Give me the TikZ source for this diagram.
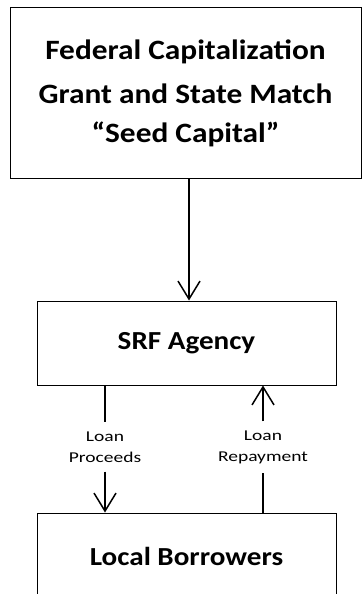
\documentclass[tikz,border=0pt]{standalone}
\usepackage{fontspec}
\setmainfont{Carlito}
\newfontfamily\boxfont[FakeStretch=1.12]{Carlito Bold}
\newfontfamily\flowfont[FakeStretch=1.3]{Carlito}
\usetikzlibrary{arrows.meta}
\begin{document}
\begin{tikzpicture}[x=1pt, y=-1pt,
    box/.style={draw, line width=1pt, inner sep=0pt, align=center,
                font=\boxfont\fontsize{26}{45}\selectfont},
    flowlabel/.style={align=center, inner xsep=1pt, inner ysep=9pt,
                      font=\flowfont\fontsize{15}{21}\selectfont},
    flow/.style={line width=1.5pt,
                 -{Straight Barb[length=18pt, width=22pt, line width=1.5pt]}}]
  \useasboundingbox (0,0) rectangle (362,594);
  \clip (0,0) rectangle (362,594);
  \node[box, minimum width=351pt, minimum height=170pt,
        font=\boxfont\fontsize{28}{44}\selectfont] (grant) at (185.5,93)
    {Federal Capitalization\\Grant and State Match\\[-5pt]“Seed Capital”};
  \node[box, minimum width=299pt, minimum height=84pt] (srf) at (186.5,343)
    {SRF Agency};
  \node[box, minimum width=299pt, minimum height=86pt] (borrowers) at (186.5,556)
    {Local Borrowers};
  \node[flowlabel] (proceeds) at (105,447) {Loan\\Proceeds};
  \node[flowlabel] (repayment) at (263,447) {Loan\\Repayment};
  % seed capital into the agency
  \draw[flow] (grant.south -| 189,0) -- (srf.north -| 189,0);
  % loans out and back
  \draw[line width=1.5pt] (srf.south -| proceeds) -- (proceeds.north);
  \draw[flow] (proceeds.south) -- (borrowers.north -| proceeds);
  \draw[line width=1.5pt] (borrowers.north -| repayment) -- (repayment.south);
  \draw[flow] (repayment.north) -- (srf.south -| repayment);
\end{tikzpicture}
\end{document}
